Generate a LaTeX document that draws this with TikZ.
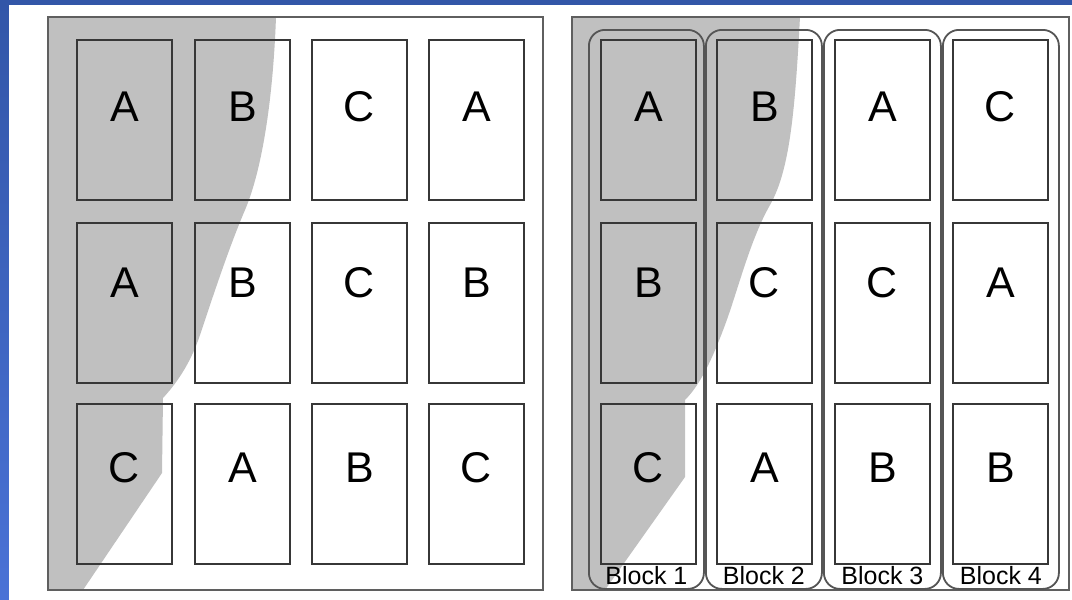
\documentclass[tikz,border=0pt]{standalone}
\usepackage{fontspec}
\setmainfont{Liberation Sans}
\definecolor{bgtop}{RGB}{50,86,168}
\definecolor{bgbot}{RGB}{74,114,214}
\definecolor{shadegray}{RGB}{192,192,192}
\definecolor{linegray}{RGB}{55,55,55}
\begin{document}
\begin{tikzpicture}[x=1pt,y=-1pt,
  panel/.style={draw=linegray!80, line width=1.8pt},
  cell/.style={draw=linegray, line width=1.8pt, minimum width=95pt, minimum height=160pt, inner sep=0pt, anchor=north west},
  blockbox/.style={draw=linegray!85, line width=1.8pt, rounded corners=16pt, minimum height=559pt, inner sep=0pt, anchor=north west},
  letter/.style={font=\fontsize{43}{50}\selectfont, inner sep=0pt},
  blocklabel/.style={font=\fontsize{25}{28}\selectfont, inner sep=0pt}]
\useasboundingbox (0,0) rectangle (1072,600);
% background
\shade[top color=bgtop, bottom color=bgbot] (0,0) rectangle (1072,600);
\fill[white] (9,5) rectangle (1072,600);
% gray regions
\fill[shadegray] (48,17) -- (276,17) .. controls (273,100) and (262,170) .. (245,210)
  .. controls (230,245) and (215,290) .. (200,335)
  .. controls (190,365) and (175,385) .. (163,398) -- (162,473) -- (83,590) -- (48,590) -- cycle;
\fill[shadegray] (572,17) -- (800,17) .. controls (795,110) and (790,170) .. (770,205)
  .. controls (750,240) and (738,290) .. (725,325)
  .. controls (712,360) and (700,385) .. (685,400) -- (685,477) -- (605,590) -- (572,590) -- cycle;
% panels
\draw[panel] (48,17) rectangle (543,590);
\draw[panel] (572,17) rectangle (1069,590);
% left panel cells
\foreach \c/\x in {1/76,2/194,3/311,4/428}{
  \foreach \r/\y in {1/39,2/222,3/403}{
    \node[cell] (L\r\c) at (\x,\y) {};
  }
}
% right panel cells
\foreach \c/\x in {1/600,2/716,3/834,4/952}{
  \foreach \r/\y in {1/39,2/222,3/403}{
    \node[cell] (R\r\c) at (\x,\y) {};
  }
}
% left letters
\foreach \r/\dy/\a/\b/\cc/\d in {1/68/A/B/C/A,2/61/A/B/C/B,3/65/C/A/B/C}{
  \node[letter] (LT\r1) at ([yshift=-\dy pt]L\r1.north) {\a};
  \node[letter] (LT\r2) at ([yshift=-\dy pt]L\r2.north) {\b};
  \node[letter] (LT\r3) at ([yshift=-\dy pt]L\r3.north) {\cc};
  \node[letter] (LT\r4) at ([yshift=-\dy pt]L\r4.north) {\d};
}
% right letters
\foreach \r/\dy/\a/\b/\cc/\d in {1/68/A/B/A/C,2/61/B/C/C/A,3/65/C/A/B/B}{
  \node[letter] (RT\r1) at ([yshift=-\dy pt]R\r1.north) {\a};
  \node[letter] (RT\r2) at ([yshift=-\dy pt]R\r2.north) {\b};
  \node[letter] (RT\r3) at ([yshift=-\dy pt]R\r3.north) {\cc};
  \node[letter] (RT\r4) at ([yshift=-\dy pt]R\r4.north) {\d};
}
% blocks
\foreach \n/\x/\w in {1/588/115,2/705/116,3/823/117,4/942/116}{
  \node[blockbox, minimum width=\w pt] (B\n) at (\x,29) {};
  \node[blocklabel] (BL\n) at ([yshift=14pt]B\n.south) {Block \n};
}
\end{tikzpicture}
\end{document}
